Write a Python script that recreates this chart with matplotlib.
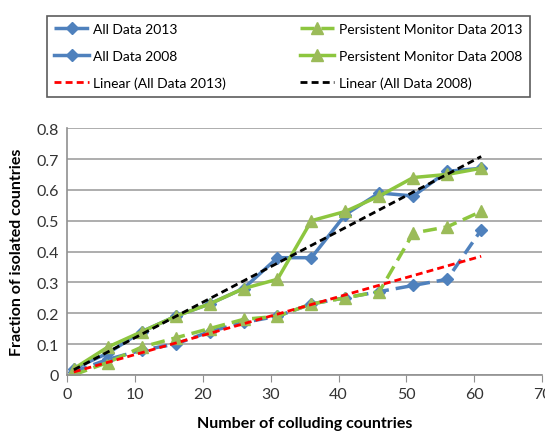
import numpy as np
import matplotlib
matplotlib.use('Agg')
import matplotlib.pyplot as plt

plt.rcParams['font.family'] = ['Lato', 'DejaVu Sans']

colluding = [1, 6, 11, 16, 21, 26, 31, 36, 41, 46, 51, 56, 61]
all_2013 = [0.01, 0.05, 0.08, 0.10, 0.14, 0.17, 0.19, 0.23, 0.25, 0.27, 0.29, 0.31, 0.47]
pm_2013 = [0.00, 0.04, 0.09, 0.12, 0.15, 0.18, 0.19, 0.23, 0.25, 0.27, 0.46, 0.48, 0.53]
all_2008 = [0.02, 0.07, 0.14, 0.19, 0.23, 0.28, 0.38, 0.38, 0.52, 0.59, 0.58, 0.66, 0.67]
pm_2008 = [0.02, 0.09, 0.14, 0.19, 0.23, 0.28, 0.31, 0.50, 0.53, 0.58, 0.64, 0.65, 0.67]

blue = '#4F81BD'
green_line = '#8DC63F'
green_mk = '#9BBB59'

fig = plt.figure(figsize=(5.45, 4.35), dpi=100)
ax = fig.add_axes([0.123, 0.136, 0.872, 0.567])

x = np.array(colluding)
h1, = ax.plot(x, all_2013, color=blue, lw=2.5, ls=(0, (4, 2)), marker='D', ms=6.5,
              mfc=blue, mec=blue, label='All Data 2013')
h2, = ax.plot(x, pm_2013, color=green_line, lw=2.5, ls=(0, (4, 2)), marker='^', ms=8.5,
              mfc=green_mk, mec=green_mk, label='Persistent Monitor Data 2013')
h3, = ax.plot(x, all_2008, color=blue, lw=2.5, marker='D', ms=6.5,
              mfc=blue, mec=blue, label='All Data 2008')
h4, = ax.plot(x, pm_2008, color=green_line, lw=2.5, marker='^', ms=8.5,
              mfc=green_mk, mec=green_mk, label='Persistent Monitor Data 2008')

# linear trend lines like excel
k13, b13 = np.polyfit(x, all_2013, 1)
k08, b08 = np.polyfit(x, all_2008, 1)
xs = np.array([x[0], x[-1]])
h5, = ax.plot(xs, k13 * xs + b13, color='red', lw=2, ls=(0, (2.5, 1.5)), label='Linear (All Data 2013)')
h6, = ax.plot(xs, k08 * xs + b08, color='black', lw=2, ls=(0, (2.5, 1.5)), label='Linear (All Data 2008)')

ax.set_xlim(0, 70)
ax.set_ylim(0, 0.8)
ax.set_xticks(range(0, 71, 10))
ax.set_yticks(np.arange(0, 0.81, 0.1))
ax.set_yticklabels(['0'] + ['%.1f' % v for v in np.arange(0.1, 0.81, 0.1)])
ax.yaxis.grid(True, color='#A0A0A0', lw=1.2)
ax.set_axisbelow(True)
for s in ['top', 'right']:
    ax.spines[s].set_visible(False)
for s in ['left', 'bottom']:
    ax.spines[s].set_color('#909090')
    ax.spines[s].set_linewidth(1.2)
ax.tick_params(axis='x', length=5, color='#909090', labelsize=11.5, labelcolor='#333333')
ax.tick_params(axis='y', length=0, labelsize=11.5, labelcolor='#333333', pad=6)

ax.set_xlabel('Number of colluding countries', fontsize=11.5, fontweight='bold', labelpad=11)
ax.set_ylabel('Fraction of isolated countries', fontsize=11.5, fontweight='bold', labelpad=9)

leg = fig.legend(handles=[h1, h3, h5, h2, h4, h6], ncol=2, loc='upper left',
                 bbox_to_anchor=(0.073, 0.978), fontsize=10, frameon=True, fancybox=False,
                 edgecolor='#333333', handlelength=2.5, columnspacing=5.3, labelspacing=1.05,
                 borderpad=0.55, handletextpad=0.3)
leg.get_frame().set_linewidth(1.2)

fig.savefig('out.png', dpi=100)
